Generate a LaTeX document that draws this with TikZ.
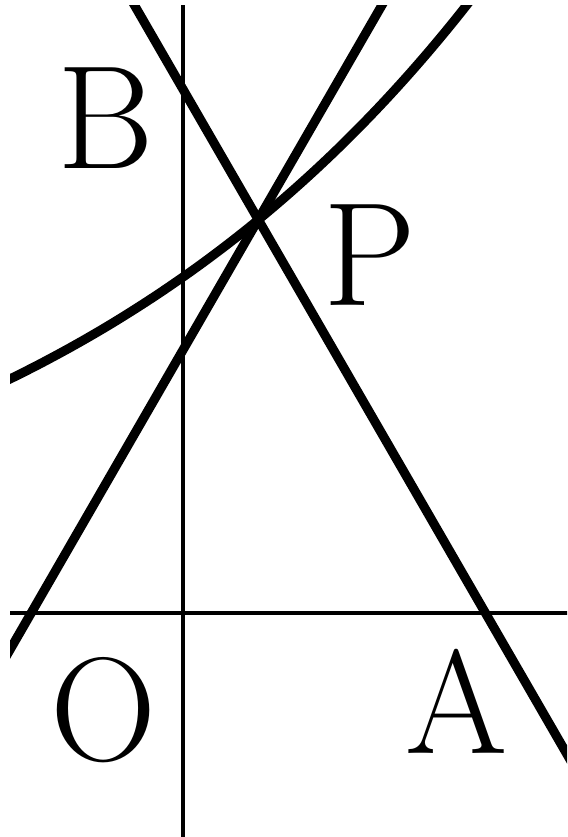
\documentclass[tikz,border=0pt]{standalone}
\usepackage{tikz}
\usetikzlibrary{calc}
\definecolor{ink}{HTML}{000000}
\tikzset{
  every picture/.style={line width=2pt,draw=ink},
  ax/.style={draw=ink,line width=2pt},
  thk/.style={draw=ink,line width=4.6pt},
  lab/.style={font=\fontsize{74}{74}\selectfont,text=ink,inner sep=0pt},
}
\begin{document}
\begin{tikzpicture}[x=1mm,y=1mm]
  \useasboundingbox (-32.3,-39.5) rectangle (67.7,108.1);
  \clip (-30.5,-39.5) rectangle (67.7,107.2);
  \coordinate (O) at (0,0);
  \coordinate (A) at (53.3,0);
  \coordinate (B) at (0,92.3);
  \coordinate (C) at (-26.8,0);
  \coordinate (P) at (13.25,69.4);
  % axes
  \draw[ax] (-30.5,0) -- (70,0);
  \draw[ax] (0,107.2) -- (0,-40);
  % the two lines through P
  \draw[thk] ($(A)!-0.3!(B)$) -- ($(A)!1.3!(B)$);
  \draw[thk] ($(C)!-0.2!(P)$) -- ($(C)!1.6!(P)$);
  % curve
  \draw[thk] plot[domain=-33:52,samples=80,smooth] (\x,{59.26*exp(0.01185*\x)});
  \node[lab] (lB) at (-13.6,87.3) {B};
  \node[lab] (lP) at (33.0,63.1) {P};
  \node[lab] (lO) at (-14.1,-17.1) {O};
  \node[lab] (lA) at (48.3,-15.5) {A};
\end{tikzpicture}
\end{document}
